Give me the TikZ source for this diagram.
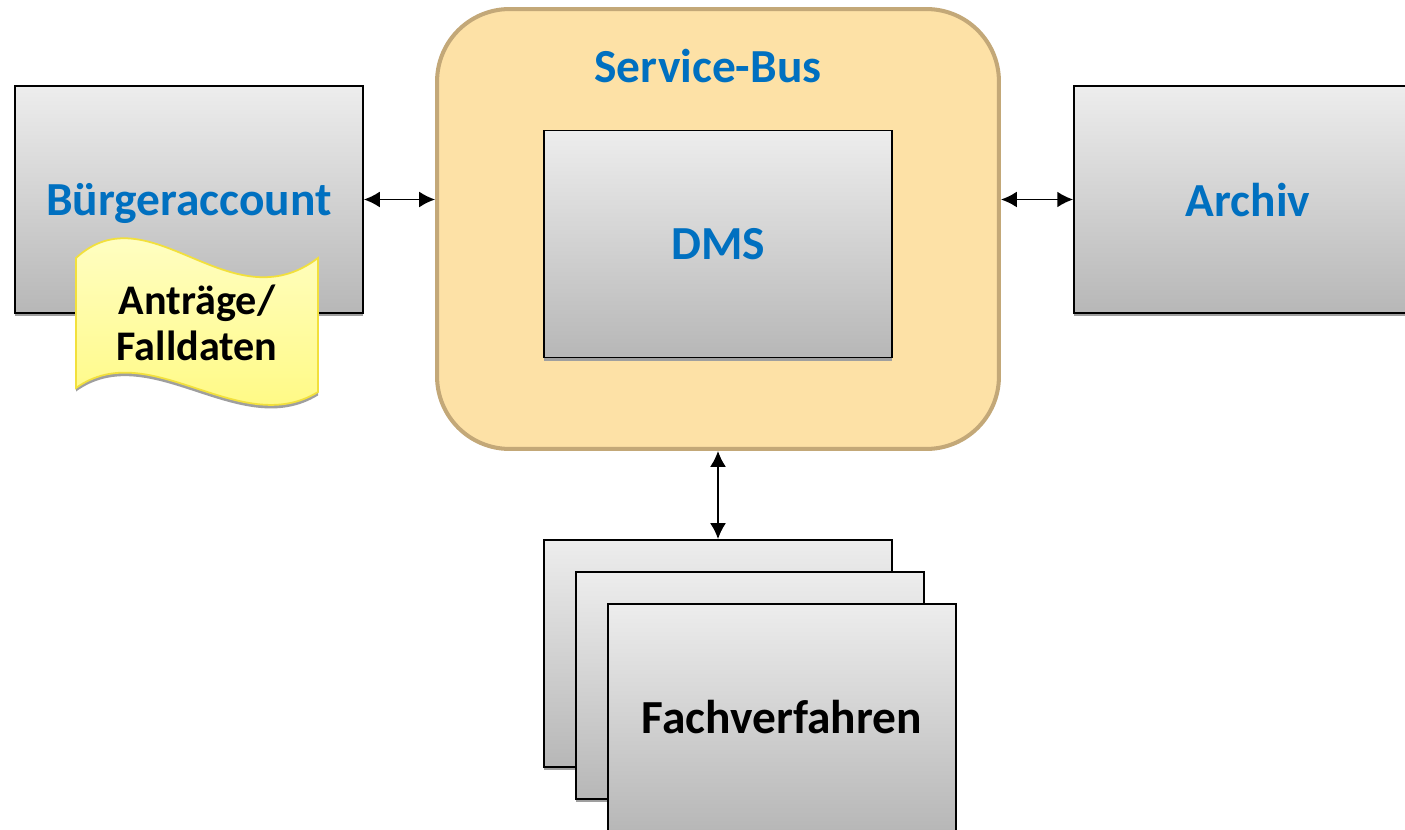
\documentclass[tikz,border=0pt]{standalone}
\usepackage{fontspec}
\setmainfont{Carlito}
\usetikzlibrary{arrows.meta,shadows,positioning}
\definecolor{busfill}{HTML}{FDE1A6}
\definecolor{busline}{HTML}{C3A878}
\definecolor{labelblue}{HTML}{0070C0}
\definecolor{boxtop}{HTML}{EDEDED}
\definecolor{boxbottom}{HTML}{B7B7B7}
\definecolor{paperline}{HTML}{F2E03C}
\definecolor{papertop}{HTML}{FFFFD2}
\definecolor{paperbottom}{HTML}{FFF97A}
\begin{document}
\begin{tikzpicture}
    [
      x=0.02cm, y=-0.02cm,
      every node/.style={black},
      box/.style={draw=black, line width=1.1pt, top color=boxtop, bottom color=boxbottom,
        minimum width=6.96cm, minimum height=4.54cm, inner sep=0pt,
        drop shadow={shadow xshift=0pt, shadow yshift=-2pt, fill=gray!75, opacity=1}},
      bus/.style={draw=busline, fill=busfill, line width=2.3pt, rounded corners=1.45cm,
        minimum width=11.24cm, minimum height=8.8cm},
      title/.style={text=labelblue, text depth=0pt, font=\fontsize{27}{32}\selectfont\bfseries},
      label/.style={text=black, font=\fontsize{27}{32}\selectfont\bfseries},
      paper/.style={draw=paperline, line width=1pt, top color=papertop, bottom color=paperbottom,
        drop shadow={shadow xshift=0pt, shadow yshift=-2pt, fill=gray!75, opacity=1}},
      link/.style={{Latex[length=9pt,width=9pt]}-{Latex[length=9pt,width=9pt]}, line width=0.9pt},
    ]

    \clip (0,0) rectangle (1405,830);

    \node [bus] (bus) at (718,229) {};
    \node [title] (bustitle) at (708,66) {Service-Bus};
    \node [box, title] (dms) at (718,244) {DMS};

    \node [box, title] (buerger) at (189,199.5) {Bürgeraccount};
    \node [box, title] (archiv) at (1248,199.5) {Archiv};

    \draw [paper] (76,258) .. controls (150,190) and (230,325) .. (318,258)
      -- (318,392) .. controls (240,440) and (150,335) .. (76,388) -- cycle;
    \node [label, font=\fontsize{24}{26}\selectfont\bfseries, align=center] (antraege) at (197,323) {Anträge/\\Falldaten};

    \node [box] (fach1) at (718,653.5) {};
    \node [box] (fach2) at (750,685.5) {};
    \node [box, label] (fach3) at (782,717.5) {Fachverfahren};

    \draw [link] (buerger.east) -- (bus.west |- buerger.east);
    \draw [link] (archiv.west) -- (bus.east |- archiv.west);
    \draw [link] (bus.south) -- (fach1.north);
  \end{tikzpicture}
\end{document}
